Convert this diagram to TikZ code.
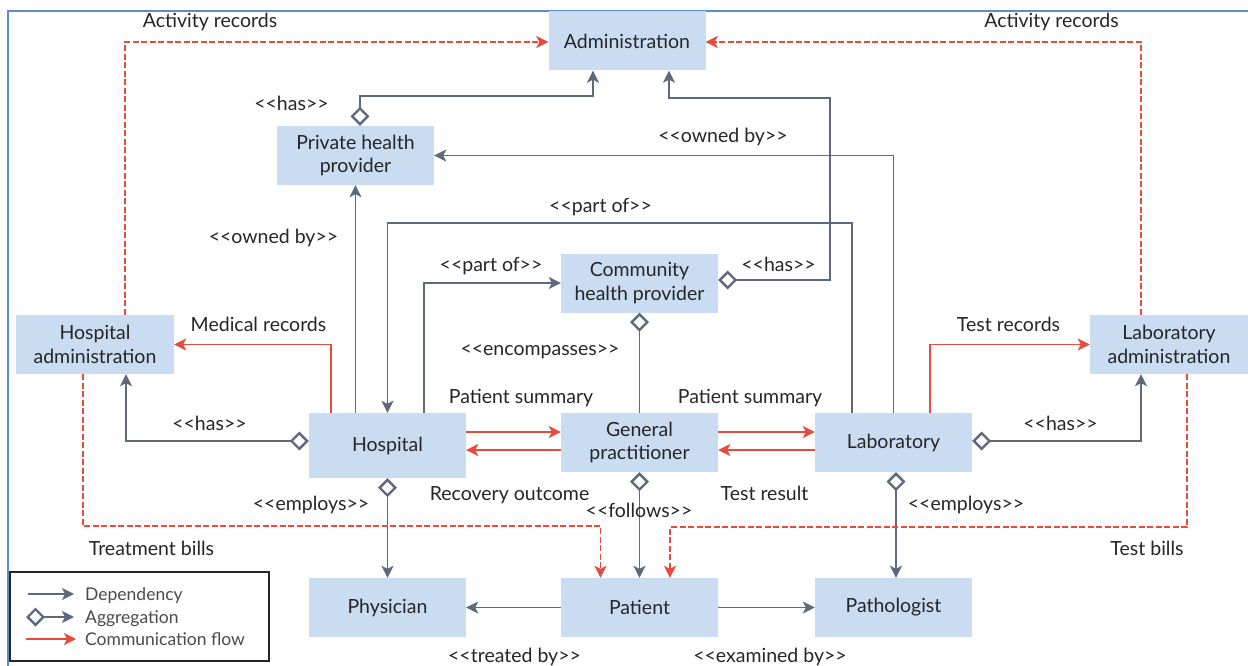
\documentclass[tikz,border=0pt]{standalone}
\usepackage{fontspec}
\setmainfont{Lato}[Ligatures=TeXOff]
\usetikzlibrary{arrows.meta}

\definecolor{boxfill}{HTML}{CADCF2}
\definecolor{depcol}{HTML}{5E6A7C}
\definecolor{commcol}{HTML}{E84A3B}
\definecolor{framecol}{HTML}{5B8BD0}
\definecolor{txtcol}{HTML}{262626}
\definecolor{legtxt}{HTML}{4A4A4A}

\newcommand{\mainfs}{\fontsize{19.5}{23.5}\selectfont}
\newcommand{\legfs}{\fontsize{17.5}{21}\selectfont}

\tikzset{
  box/.style={fill=boxfill, minimum width=157, minimum height=59, inner sep=0,
    align=center, text=txtcol, font=\mainfs},
  lbl/.style={inner sep=0, text height=14, text depth=0, text=txtcol, font=\mainfs},
  legl/.style={inner sep=0, text height=13, text depth=0, text=legtxt, font=\legfs, anchor=west},
  dep/.style={draw=depcol, line width=1.9, -{Stealth[length=12pt,width=12pt,inset=3pt]}},
  agg/.style={draw=depcol, line width=1.9,
    {Diamond[open,length=19pt,width=19pt,line width=2.4pt]}-{Stealth[length=12pt,width=12pt,inset=3pt]}},
  aggline/.style={draw=depcol, line width=1.9, {Diamond[open,length=19pt,width=19pt,line width=2.4pt]}-},
  comm/.style={draw=commcol, line width=1.8, -{Stealth[length=12pt,width=12pt,inset=3pt]}},
  commd/.style={comm, dash pattern=on 6pt off 2.5pt},
}

\begin{document}
\begin{tikzpicture}[x=1pt, y=-1pt]
\useasboundingbox (0,0) rectangle (1248,666);

% outer frame
\draw[framecol, line width=2] (8,666) -- (8,11) -- (1248,11);

% entities
\node[box] (admin) at (627,41) {Administration};
\node[box] (php) at (355.5,155.5) {Private health\\provider};
\node[box] (chp) at (639.5,283) {Community\\health provider};
\node[box, minimum width=158] (hadm) at (95,344.5) {Hospital\\administration};
\node[box, minimum width=158] (ladm) at (1169,344.5) {Laboratory\\administration};
\node[box, minimum height=65] (hosp) at (387.5,445.5) {Hospital};
\node[box] (gp) at (639.5,442.5) {General\\practitioner};
\node[box] (lab) at (893.5,442.5) {Laboratory};
\node[box] (phys) at (387.5,607.5) {Physician};
\node[box] (pat) at (639.5,607.5) {Patient};
\node[box] (path) at (893.5,607.5) {Pathologist};

% aggregation / dependency links
\draw[agg] ([xshift=4.5]php.north) -- ++(0,-30) -| ([xshift=-34]admin.south);
\draw[agg] ([yshift=3]chp.east) -- ++(112,0) -- ++(0,-182) -| ([xshift=42]admin.south);
\draw[dep] (lab.north) |- (php.east);
\draw[dep] ([xshift=-41.5]lab.north) -- ++(0,-190) -| (hosp.north);
\draw[dep] ([xshift=36.5]hosp.north) |- (chp.west);
\draw[dep] (php.south |- hosp.north) -- (php.south);
\draw[aggline] (chp.south) -- (gp.north);
\draw[agg] ([yshift=4.5]hosp.west) -| ([xshift=31]hadm.south);
\draw[agg] ([yshift=1.5]lab.east) -| ([xshift=-28]ladm.south);
\draw[agg] (hosp.south) -- (phys.north);
\draw[agg] (gp.south) -- (pat.north);
\draw[agg] ([xshift=2.5]lab.south) -- ([xshift=2.5]path.north);
\draw[dep] (pat.west) -- (phys.east);
\draw[dep] (pat.east) -- (path.west);

% communication flows
\draw[comm] ([xshift=-56.5]hosp.north) |- (hadm.east);
\draw[comm] ([xshift=36.5]lab.north) |- (ladm.west);
\draw[comm] ([yshift=10.5]gp.west -| hosp.east) -- ([yshift=10.5]gp.west);
\draw[comm] ([yshift=-7.5]gp.west) -- ([yshift=-7.5]gp.west -| hosp.east);
\draw[comm] ([yshift=10.5]gp.east) -- ([yshift=10.5]lab.west);
\draw[comm] ([yshift=-7.5]lab.west) -- ([yshift=-7.5]gp.east);
\draw[commd] ([xshift=30]hadm.north) |- ([yshift=-1]admin.west);
\draw[commd] ([xshift=-28]ladm.north) |- ([yshift=-1]admin.east);
\draw[commd] ([xshift=-12]hadm.south) -- ++(0,152) -| ([xshift=-39]pat.north);
\draw[commd] ([xshift=18]ladm.south) -- ++(0,153) -| ([xshift=30.5]pat.north);

% labels
\node[lbl] (l1) at (210,21) {Activity records};
\node[lbl] (l2) at (1051.5,21) {Activity records};
\node[lbl] (l3) at (291.5,104) {<<has>>};
\node[lbl] (l4) at (723,136) {<<owned by>>};
\node[lbl] (l5) at (600.5,205) {<<part of>>};
\node[lbl] (l6) at (273.5,236) {<<owned by>>};
\node[lbl] (l7) at (491,264) {<<part of>>};
\node[lbl] (l8) at (778.5,264) {<<has>>};
\node[lbl] (l9) at (540,348) {<<encompasses>>};
\node[lbl] (l10) at (258.5,324) {Medical records};
\node[lbl] (l11) at (1008.5,324) {Test records};
\node[lbl] (l12) at (521,396) {Patient summary};
\node[lbl] (l13) at (750,396) {Patient summary};
\node[lbl] (l14) at (209.5,423) {<<has>>};
\node[lbl] (l15) at (1060.5,423) {<<has>>};
\node[lbl] (l16) at (509.5,493) {Recovery outcome};
\node[lbl] (l17) at (764.5,493) {Test result};
\node[lbl] (l18) at (311,503) {<<employs>>};
\node[lbl] (l19) at (966,503) {<<employs>>};
\node[lbl] (l20) at (639,510) {<<follows>>};
\node[lbl] (l21) at (151.5,548) {Treatment bills};
\node[lbl] (l22) at (1147,548) {Test bills};
\node[lbl] (l23) at (514.5,655) {<<treated by>>};
\node[lbl] (l24) at (770,655) {<<examined by>>};

% legend
\draw[black!85, line width=1.5] (10,572) rectangle (269,661);
\coordinate (d1) at (28,594);  \coordinate (d2) at (74,594);
\coordinate (a1) at (26,617);  \coordinate (a2) at (74,617);
\coordinate (c1) at (26,639);  \coordinate (c2) at (76,639);
\draw[dep] (d1) -- (d2);
\draw[agg] (a1) -- (a2);
\draw[comm] (c1) -- (c2);
\node[legl] (t1) at (85,594) {Dependency};
\node[legl] (t2) at (85,617) {Aggregation};
\node[legl] (t3) at (85,639) {Communication flow};
\end{tikzpicture}
\end{document}
